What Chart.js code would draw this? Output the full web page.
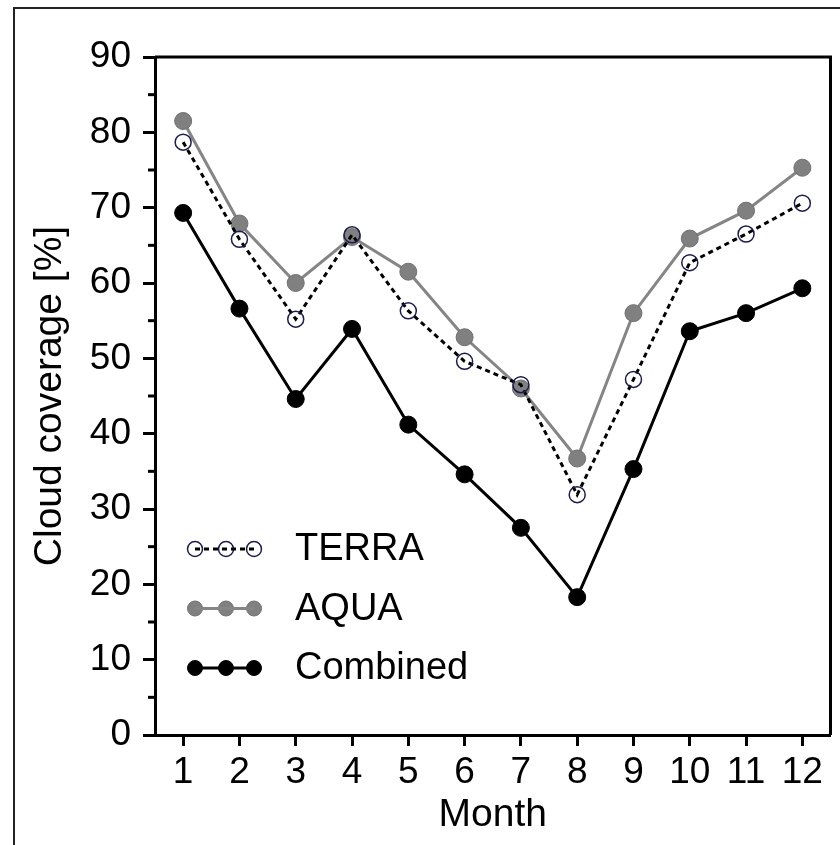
<!DOCTYPE html>
<html>
<head>
<meta charset="utf-8">
<script src="https://cdn.jsdelivr.net/npm/chart.js@4.4.1/dist/chart.umd.min.js"></script>
<style>
  body { margin: 0; background: #fff; overflow: hidden; }
  #wrap { position: relative; width: 840px; height: 845px; }
  #frame { position: absolute; left: 13px; top: 7px; width: 1000px; height: 1000px; border: 2px solid #222; }
  canvas { position: absolute; left: 0; top: 0; }
</style>
</head>
<body>
<div id="wrap">
  <div id="frame"></div>
  <canvas id="myChart" width="840" height="845"></canvas>
</div>
<script>
var months = ['1', '2', '3', '4', '5', '6', '7', '8', '9', '10', '11', '12'];
var terra = [78.7, 65.8, 55.2, 66.4, 56.3, 49.6, 46.5, 31.9, 47.2, 62.7, 66.5, 70.6];
var aqua = [81.5, 67.9, 60.0, 66.1, 61.5, 52.8, 46.0, 36.7, 56.0, 65.9, 69.6, 75.3];
var combined = [69.3, 56.6, 44.6, 53.9, 41.2, 34.6, 27.5, 18.3, 35.3, 53.6, 56.0, 59.3];
var minorTicks = [5, 15, 25, 35, 45, 55, 65, 75, 85];

var FONT = "'Liberation Sans', Arial, sans-serif";

// frame top/right + minor y ticks
var framePlugin = {
    id: 'framePlugin',
    beforeDatasetsDraw: function(chart) {
        var c = chart.ctx, a = chart.chartArea, y = chart.scales.y;
        c.save();
        c.strokeStyle = '#000';
        c.lineWidth = 3;
        c.beginPath();
        c.moveTo(a.left, a.top);
        c.lineTo(a.right, a.top);
        c.lineTo(a.right, a.bottom);
        c.stroke();
        minorTicks.forEach(function(v) {
            var py = y.getPixelForValue(v);
            c.beginPath();
            c.moveTo(a.left - 7, py);
            c.lineTo(a.left, py);
            c.stroke();
        });
        c.restore();
    }
};

// legend with three markers joined by a line
var legendPlugin = {
    id: 'legendPlugin',
    afterDraw: function(chart) {
        var c = chart.ctx, a = chart.chartArea;
        c.save();
        chart.data.datasets.forEach(function(ds, i) {
            var cy = a.top + 492 + i * 59.5;
            var xs = [a.left + 40, a.left + 71, a.left + 99];
            xs.forEach(function(x) {
                c.beginPath();
                c.arc(x, cy, 7.5, 0, Math.PI * 2);
                c.fillStyle = ds.pointBackgroundColor;
                c.fill();
                c.lineWidth = ds.pointBorderWidth;
                c.strokeStyle = ds.pointBorderColor;
                c.stroke();
            });
            c.strokeStyle = ds.borderColor;
            c.lineWidth = ds.borderWidth;
            c.setLineDash(ds.borderDash || []);
            c.beginPath();
            c.moveTo(xs[0], cy);
            c.lineTo(xs[2], cy);
            c.stroke();
            c.setLineDash([]);
            c.fillStyle = '#000';
            c.font = '38px ' + FONT;
            c.textBaseline = 'middle';
            c.fillText(ds.label, a.left + 140, cy + 1);
        });
        c.restore();
    }
};

var ctx = document.getElementById('myChart').getContext('2d');
var myChart = new Chart(ctx, {
    type: 'line',
    data: {
        labels: months,
        datasets: [{
                label: 'TERRA',
                data: terra,
                borderColor: '#000',
                borderWidth: 3,
                borderDash: [5, 4],
                pointRadius: 8,
                pointBackgroundColor: 'rgba(255,255,255,0)',
                pointBorderColor: '#1c1c50',
                pointBorderWidth: 1.5
            }, {
                label: 'AQUA',
                data: aqua,
                borderColor: '#858585',
                borderWidth: 3,
                pointRadius: 8.5,
                pointBackgroundColor: '#808080',
                pointBorderColor: '#707070',
                pointBorderWidth: 1
            }, {
                label: 'Combined',
                data: combined,
                borderColor: '#000',
                borderWidth: 3,
                pointRadius: 8.5,
                pointBackgroundColor: '#000',
                pointBorderColor: '#000',
                pointBorderWidth: 1
            }]
    },
    options: {
        responsive: false,
        animation: false,
        layout: { padding: { left: 0, top: 57, right: 7, bottom: 0 } },
        plugins: { legend: { display: false }, tooltip: { enabled: false } },
        scales: {
            x: {
                offset: true,
                afterFit: function(s) { s.height = 110; },
                border: { display: true, color: '#000', width: 3 },
                grid: { drawOnChartArea: false, drawTicks: true, tickLength: 11, tickColor: '#000', tickWidth: 3, offset: false },
                ticks: { color: '#000', font: { family: FONT, size: 37 }, padding: 5, maxRotation: 0, autoSkip: false },
                title: { display: true, text: 'Month', color: '#000', font: { family: FONT, size: 39 }, padding: { top: 0, bottom: 6 } }
            },
            y: {
                min: 0,
                max: 90,
                afterFit: function(s) { s.width = 155; },
                border: { display: true, color: '#000', width: 3 },
                grid: { drawOnChartArea: false, drawTicks: true, tickLength: 12, tickColor: '#000', tickWidth: 3 },
                ticks: { stepSize: 10, color: '#000', font: { family: FONT, size: 37 }, padding: 12 },
                title: { display: true, text: 'Cloud coverage [%]', color: '#000', font: { family: FONT, size: 39 }, padding: { top: 27, bottom: 0 } }
            }
        }
    },
    plugins: [framePlugin, legendPlugin]
});
</script>
</body>
</html>
